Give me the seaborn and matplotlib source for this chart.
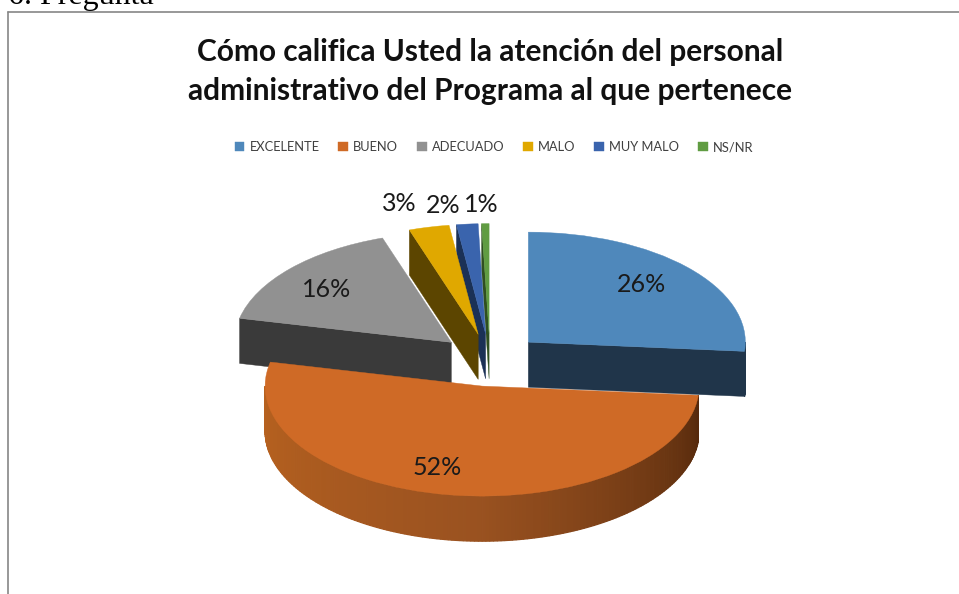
import numpy as np
import matplotlib
matplotlib.use("Agg")
import matplotlib.pyplot as plt
import seaborn as sns
from matplotlib.lines import Line2D
from matplotlib.patches import Polygon

sns.set_theme(style="white")
plt.rcParams["font.family"] = ["Lato", "DejaVu Sans"]

W, H = 959, 594

categories = ["EXCELENTE", "BUENO", "ADECUADO", "MALO", "MUY MALO", "NS/NR"]
# shares, the printed labels are these rounded
values = [26.4, 52.3, 16.4, 3.0, 1.6, 0.55]
top_colors = ["#4f88bb", "#cf6a26", "#919191", "#e0a800", "#3a64ad", "#609c42"]
wall_colors = ["#20354a", "#55290c", "#3a3a3a", "#5c4500", "#1b3156", "#2f4f20"]
rim_colors = ["#b8621f", "#9a5220", "#55290c"]
# percentage label placement: radius from the slice apex, degrees off the mid angle
label_radius = [0.742, 0.766, 0.752, 1.24, 1.183, 1.17]
label_turn = [2.7, -6.8, 2.1, 3.9, 4.6, 0.7]

EXPLODE = 0.24
DEPTH = 0.41  # thickness of the pie in y units

fig = plt.figure(figsize=(W / 100, H / 100), dpi=100)

# one x unit = 217 px, one y unit = 110 px, this squash gives the tilted look
cx, cy, rx, ry = 490, 360, 217, 110
xlim, ylim = (-1.6, 1.6), (-2.0, 1.6)
ax = fig.add_axes([
    (cx + xlim[0] * rx) / W,
    (H - (cy - ylim[0] * ry)) / H,
    (xlim[1] - xlim[0]) * rx / W,
    (ylim[1] - ylim[0]) * ry / H,
])
wedges, _ = ax.pie(
    values, colors=sns.color_palette(top_colors), startangle=90, counterclock=False,
    explode=[EXPLODE] * len(values), radius=1, normalize=True,
)
ax.set_aspect("auto")
ax.set_xlim(*xlim)
ax.set_ylim(*ylim)
ax.axis("off")


def on_rim(wedge, angle):
    a = np.deg2rad(angle)
    return wedge.center[0] + np.cos(a), wedge.center[1] + np.sin(a)


# back slices first, orange goes over everything
order = sorted(range(len(values)), key=lambda i: -wedges[i].center[1])
for z, i in enumerate(order):
    w = wedges[i]
    base = 2 + z * 2
    w.set_zorder(base + 1)
    w.set_edgecolor(top_colors[i])
    w.set_linewidth(0.3)
    x0, y0 = w.center
    # flat cut faces that look towards the viewer
    for angle, normal in [(w.theta1, w.theta1 - 90), (w.theta2, w.theta2 + 90)]:
        if np.sin(np.deg2rad(normal)) < -1e-6:
            x1, y1 = on_rim(w, angle)
            ax.add_patch(Polygon(
                [(x0, y0), (x1, y1), (x1, y1 - DEPTH), (x0, y0 - DEPTH)],
                facecolor=wall_colors[i], edgecolor=wall_colors[i], lw=0.3, zorder=base,
            ))
    # outer rim, only the part below the ellipse centre shows
    t1, t2 = w.theta1, w.theta2
    angles = np.clip(np.arange(np.floor(t1), np.ceil(t2) + 1), t1, t2)
    visible = [a for a in angles if np.sin(np.deg2rad(a)) <= 0.0]
    if len(visible) > 1:
        if i == 1:
            shades = sns.blend_palette(rim_colors, len(visible))
        else:
            shades = [wall_colors[i]] * len(visible)
        for k in range(len(visible) - 1):
            xa, ya = on_rim(w, visible[k])
            xb, yb = on_rim(w, visible[k + 1])
            ax.add_patch(Polygon(
                [(xa, ya), (xb, yb), (xb, yb - DEPTH), (xa, ya - DEPTH)],
                facecolor=shades[k], edgecolor=shades[k], lw=0.9, zorder=base,
            ))
    # percentage label
    mid = np.deg2rad((w.theta1 + w.theta2) / 2 + label_turn[i])
    ax.text(
        x0 + label_radius[i] * np.cos(mid), y0 + label_radius[i] * np.sin(mid),
        f"{values[i]:.0f}%", ha="center", va="center", fontsize=18, color="#1a1a1a", zorder=40,
    )

# surrounding chart frame, open on the right and at the bottom
frame = "#868686"
fig.add_artist(Line2D([8 / W, 8 / W], [0, 1 - 12 / H], color=frame, lw=1.2))
fig.add_artist(Line2D([8 / W, 1], [1 - 12 / H, 1 - 12 / H], color=frame, lw=1.2))

fig.text(8 / W, 1 - 4 / H, "6. Pregunta", family="Liberation Serif", fontsize=23,
         ha="left", va="baseline", color="black")
fig.text(490.5 / W, 1 - 71.5 / H, "Cómo califica Usted la atención del personal\nadministrativo del Programa al que pertenece",
         ha="center", va="center", fontsize=21.5, fontweight="bold", color="#111111", linespacing=1.45)

fig.legend(
    wedges, categories, ncol=6, loc="center", bbox_to_anchor=(494 / W, 1 - 147 / H),
    frameon=False, fontsize=9.3, labelcolor="#404040", handlelength=0.75, handleheight=0.75,
    handletextpad=0.4, columnspacing=1.45,
)

fig.savefig("out.png", dpi=100, facecolor="white")
